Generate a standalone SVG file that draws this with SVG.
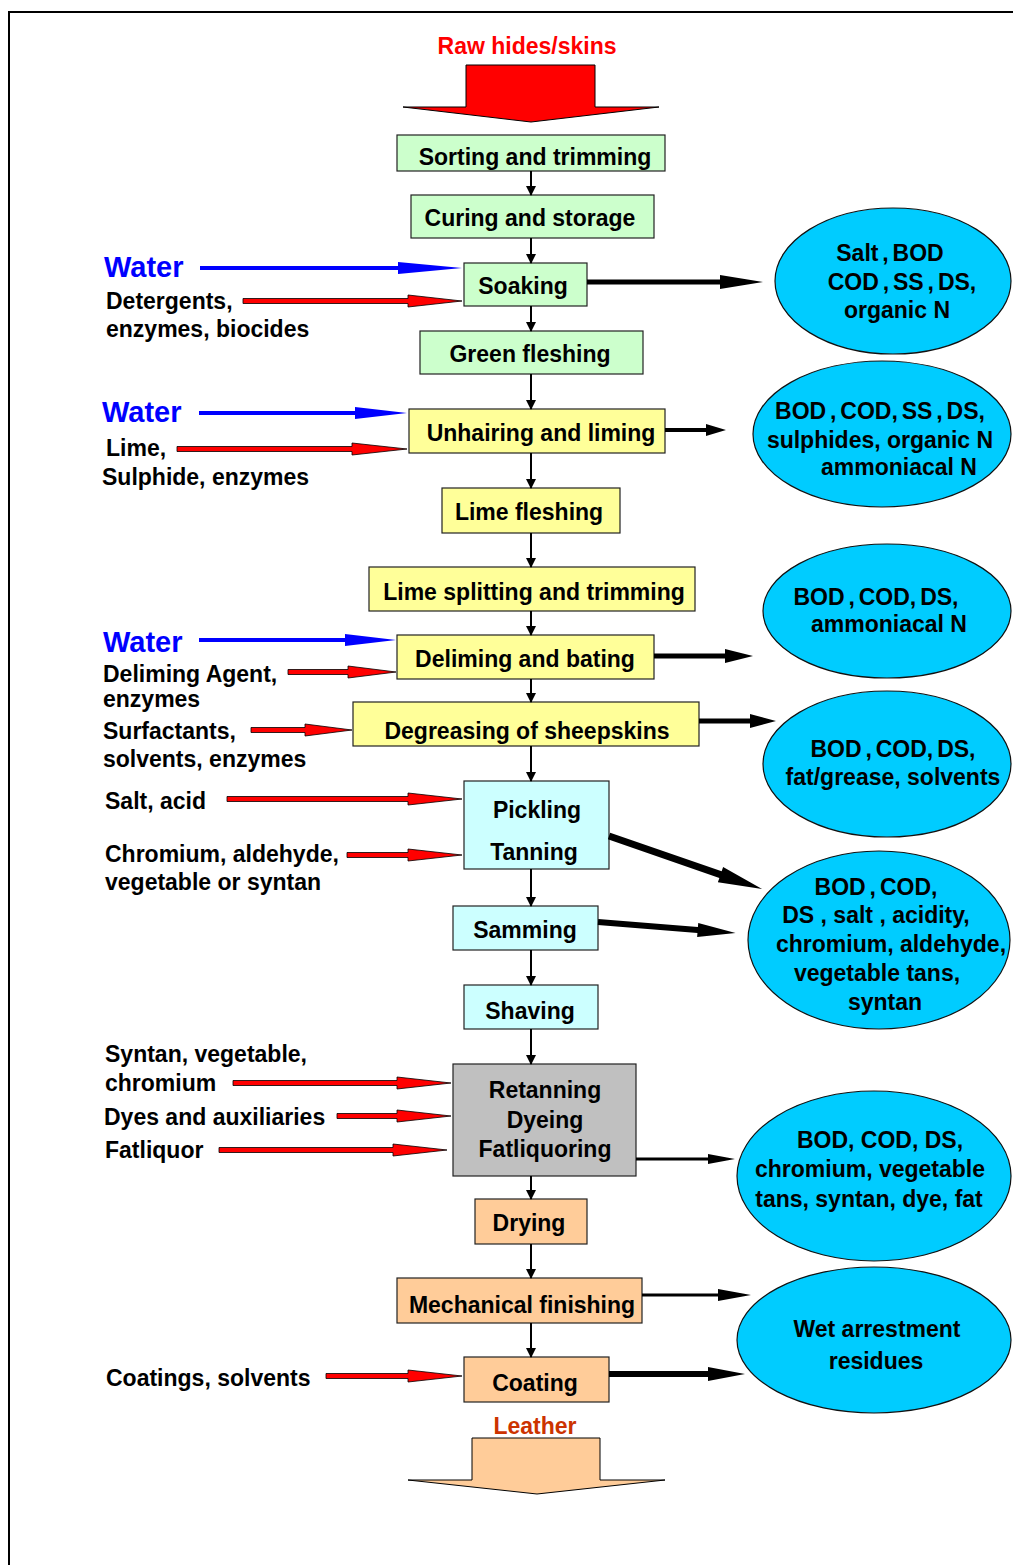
<svg xmlns="http://www.w3.org/2000/svg" width="1013" height="1565" viewBox="0 0 1013 1565">
<defs>
<marker id="ah" markerWidth="10" markerHeight="10" refX="9" refY="5" orient="auto" markerUnits="userSpaceOnUse">
<path d="M0,0 L10,5 L0,10 z" fill="#000"/>
</marker>
<style>
text{font-family:"Liberation Sans",Arial,sans-serif;font-weight:bold;font-size:23px;fill:#000}
.c{text-anchor:middle}
.ws{word-spacing:-2.5px}
.box{stroke:#222;stroke-width:1.2}
.g{fill:#CCFFCC}.y{fill:#FFFF99}.cy{fill:#CCFFFF}.gr{fill:#C0C0C0}.o{fill:#FFCC99}
.el{fill:#00CCFF;stroke:#111;stroke-width:1.2}
.v{stroke:#000;stroke-width:2;fill:none;marker-end:url(#ah)}
.red{fill:#FF0000;stroke:#000;stroke-width:0.8}
.blue{fill:#0000FF}
.blk{fill:#000}
.w{fill:#0000FF;font-size:29px}
</style>
</defs>
<rect width="1013" height="1565" fill="#fff"/>
<path d="M9,1565 L9,12 L1013,12" fill="none" stroke="#000" stroke-width="2"/>

<g id="raw-hides">
<text class="c" x="527" y="54" style="fill:#FF0000">Raw hides/skins</text>
<polygon points="466,65 595,65 595,107 659,107 531,122 403,107 466,107" fill="#FF0000" stroke="#000" stroke-width="1"/>
</g>

<g id="sorting"><rect class="box g" x="397" y="135" width="268" height="36"/><text class="c" x="535" y="165">Sorting and trimming</text></g>
<g id="curing"><rect class="box g" x="411" y="195" width="243" height="43"/><text class="c" x="530" y="226">Curing and storage</text></g>
<g id="soaking"><rect class="box g" x="464" y="263" width="123" height="43"/><text class="c" x="523" y="294">Soaking</text></g>
<g id="green-fleshing"><rect class="box g" x="420" y="331" width="223" height="43"/><text class="c" x="530" y="362">Green fleshing</text></g>
<g id="unhairing"><rect class="box y" x="409" y="409" width="256" height="44"/><text class="c" x="541" y="441">Unhairing and liming</text></g>
<g id="lime-fleshing"><rect class="box y" x="442" y="488" width="178" height="45"/><text class="c" x="529" y="520">Lime fleshing</text></g>
<g id="lime-splitting"><rect class="box y" x="369" y="567" width="326" height="44"/><text class="c" x="534" y="600">Lime splitting and trimming</text></g>
<g id="deliming"><rect class="box y" x="397" y="635" width="257" height="44"/><text class="c" x="525" y="667">Deliming and bating</text></g>
<g id="degreasing"><rect class="box y" x="353" y="702" width="346" height="44"/><text class="c" x="527" y="739">Degreasing of sheepskins</text></g>
<g id="pickling-tanning"><rect class="box cy" x="464" y="781" width="145" height="88"/><text class="c" x="537" y="818">Pickling</text><text class="c" x="534" y="860">Tanning</text></g>
<g id="samming"><rect class="box cy" x="453" y="906" width="145" height="44"/><text class="c" x="525" y="938">Samming</text></g>
<g id="shaving"><rect class="box cy" x="464" y="985" width="134" height="44"/><text class="c" x="530" y="1019">Shaving</text></g>
<g id="retanning"><rect class="box gr" x="453" y="1064" width="183" height="112"/><text class="c" x="545" y="1098">Retanning</text><text class="c" x="545" y="1128">Dyeing</text><text class="c" x="545" y="1157">Fatliquoring</text></g>
<g id="drying"><rect class="box o" x="475" y="1199" width="112" height="45"/><text class="c" x="529" y="1231">Drying</text></g>
<g id="mechanical"><rect class="box o" x="397" y="1278" width="245" height="45"/><text class="c" x="522" y="1313">Mechanical finishing</text></g>
<g id="coating"><rect class="box o" x="464" y="1357" width="145" height="45"/><text class="c" x="535" y="1391">Coating</text></g>

<g id="leather">
<text class="c" x="535" y="1434" style="fill:#CC3300">Leather</text>
<polygon points="472,1438 600,1438 600,1480 665,1480 537,1494 408,1480 472,1480" fill="#FFCC99" stroke="#000" stroke-width="1"/>
</g>

<g id="out-soaking"><ellipse class="el" cx="893" cy="281" rx="118" ry="73"/>
<text class="c ws" x="890" y="261">Salt , BOD</text><text class="c ws" x="902" y="290">COD , SS , DS,</text><text class="c" x="897" y="318">organic N</text></g>
<g id="out-unhairing"><ellipse class="el" cx="882" cy="434" rx="129" ry="73"/>
<text class="c ws" x="880" y="419">BOD , COD, SS , DS,</text><text class="c" x="880" y="448">sulphides, organic N</text><text class="c" x="899" y="475">ammoniacal N</text></g>
<g id="out-deliming"><ellipse class="el" cx="887" cy="611" rx="124" ry="67"/>
<text class="c ws" x="876" y="605">BOD , COD, DS,</text><text class="c" x="889" y="632">ammoniacal N</text></g>
<g id="out-degreasing"><ellipse class="el" cx="887" cy="764" rx="124" ry="73"/>
<text class="c ws" x="893" y="757">BOD , COD, DS,</text><text class="c" x="893" y="785">fat/grease, solvents</text></g>
<g id="out-tanning"><ellipse class="el" cx="879" cy="940" rx="131" ry="89"/>
<text class="c ws" x="876" y="895">BOD , COD,</text><text class="c" x="876" y="923">DS , salt , acidity,</text><text class="c" x="891" y="952">chromium, aldehyde,</text><text class="c" x="877" y="981">vegetable tans,</text><text class="c" x="885" y="1010">syntan</text></g>
<g id="out-retanning"><ellipse class="el" cx="874" cy="1176" rx="137" ry="85"/>
<text class="c" x="880" y="1148">BOD,  COD,  DS,</text><text class="c" x="870" y="1177">chromium, vegetable</text><text class="c" x="869" y="1207">tans, syntan, dye, fat</text></g>
<g id="out-finishing"><ellipse class="el" cx="874" cy="1340" rx="137" ry="73"/>
<text class="c" x="877" y="1337">Wet arrestment</text><text class="c" x="876" y="1369">residues</text></g>

<g id="input-labels">
<text class="w" x="104" y="277">Water</text>
<text x="106" y="309">Detergents,</text><text x="106" y="337">enzymes, biocides</text>
<text class="w" x="102" y="422">Water</text>
<text x="106" y="456">Lime,</text><text x="102" y="485">Sulphide, enzymes</text>
<text class="w" x="103" y="652">Water</text>
<text x="103" y="682">Deliming Agent,</text><text x="103" y="707">enzymes</text>
<text x="103" y="739">Surfactants,</text><text x="103" y="767">solvents, enzymes</text>
<text x="105" y="809">Salt, acid</text>
<text x="105" y="862">Chromium, aldehyde,</text><text x="105" y="890">vegetable or syntan</text>
<text x="105" y="1062">Syntan, vegetable,</text><text x="105" y="1091">chromium</text>
<text x="104" y="1125">Dyes and auxiliaries</text>
<text x="105" y="1158">Fatliquor</text>
<text x="106" y="1386">Coatings, solvents</text>
</g>

<g id="connectors">
<path class="v" d="M531,171 V195"/>
<path class="v" d="M531,238 V263"/>
<path class="v" d="M531,306 V331"/>
<path class="v" d="M531,374 V409"/>
<path class="v" d="M531,453 V488"/>
<path class="v" d="M531,533 V567"/>
<path class="v" d="M531,611 V635"/>
<path class="v" d="M531,679 V702"/>
<path class="v" d="M531,746 V781"/>
<path class="v" d="M531,869 V906"/>
<path class="v" d="M531,950 V985"/>
<path class="v" d="M531,1029 V1064"/>
<path class="v" d="M531,1176 V1199"/>
<path class="v" d="M531,1244 V1278"/>
<path class="v" d="M531,1323 V1357"/>

<polygon class="blue" points="200,266 398,266 398,262 462,268 398,274 398,270 200,270"/>
<polygon class="blue" points="199,411 355,411 355,407 407,413 355,419 355,415 199,415"/>
<polygon class="blue" points="199,638 345,638 345,634 396,640 345,646 345,642 199,642"/>

<polygon class="red" points="243,298.5 408,298.5 408,295 462,301 408,307 408,303.5 243,303.5"/>
<polygon class="red" points="177,446.5 352,446.5 352,443 407,449 352,455 352,451.5 177,451.5"/>
<polygon class="red" points="288,669.5 348,669.5 348,666 396,672 348,678 348,674.5 288,674.5"/>
<polygon class="red" points="251,727.5 305,727.5 305,724 352,730 305,736 305,732.5 251,732.5"/>
<polygon class="red" points="227,796.5 408,796.5 408,793 462,799 408,805 408,801.5 227,801.5"/>
<polygon class="red" points="347,852.5 408,852.5 408,849 462,855 408,861 408,857.5 347,857.5"/>
<polygon class="red" points="233,1080.5 397,1080.5 397,1077 451,1083 397,1089 397,1085.5 233,1085.5"/>
<polygon class="red" points="337,1113.5 397,1113.5 397,1110 451,1116 397,1122 397,1118.5 337,1118.5"/>
<polygon class="red" points="219,1147.5 393,1147.5 393,1144 447,1150 393,1156 393,1152.5 219,1152.5"/>
<polygon class="red" points="326,1373.5 408,1373.5 408,1370 462,1376 408,1382 408,1378.5 326,1378.5"/>

<polygon class="blk" points="587,279.5 720,279.5 720,275 763,282 720,289 720,284.5 587,284.5"/>
<polygon class="blk" points="665,428 706,428 706,424 726,430 706,436 706,432 665,432"/>
<polygon class="blk" points="654,653.5 725,653.5 725,649 753,656 725,663 725,658.5 654,658.5"/>
<polygon class="blk" points="699,718.5 750,718.5 750,714 776,721 750,728 750,723.5 699,723.5"/>
<g transform="translate(609,836) rotate(19.1)">
<polygon class="blk" points="0,-3.5 118,-3.5 118,-8 162,0 118,8 118,3.5 0,3.5"/>
</g>
<g transform="translate(598,922) rotate(4.6)">
<polygon class="blk" points="0,-3 100,-3 100,-7 138,0 100,7 100,3 0,3"/>
</g>
<polygon class="blk" points="636,1157.5 708,1157.5 708,1154 735,1159 708,1164 708,1160.5 636,1160.5"/>
<polygon class="blk" points="642,1293.5 718,1293.5 718,1289 751,1295 718,1301 718,1296.5 642,1296.5"/>
<polygon class="blk" points="609,1371 708,1371 708,1367 745,1374 708,1381 708,1377 609,1377"/>
</g>
</svg>
